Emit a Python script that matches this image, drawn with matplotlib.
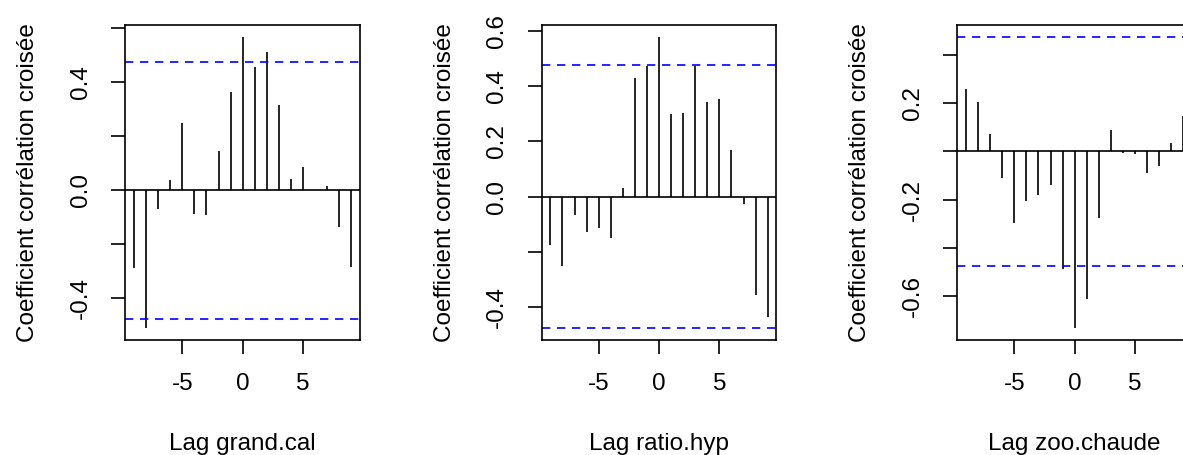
import matplotlib.pyplot as plt
import numpy as np

plt.rcParams['font.family'] = ['Liberation Sans', 'DejaVu Sans']
plt.rcParams['axes.unicode_minus'] = False

lags = np.arange(-9, 10)

# ccf values
ccf_grand_cal = [-0.289, -0.511, -0.070, 0.038, 0.248, -0.089, -0.093, 0.144, 0.365, 0.569,
                 0.456, 0.511, 0.315, 0.041, 0.085, 0.002, 0.017, -0.135, -0.283]
ccf_ratio_hyp = [-0.176, -0.251, -0.066, -0.128, -0.114, -0.149, 0.031, 0.428, 0.471, 0.578,
                 0.297, 0.302, 0.473, 0.341, 0.354, 0.167, -0.028, -0.354, -0.434]
ccf_zoo_chaude = [0.260, 0.204, 0.071, -0.112, -0.296, -0.206, -0.179, -0.140, -0.488, -0.733,
                  -0.612, -0.276, 0.087, -0.006, -0.012, -0.091, -0.062, 0.036, 0.147]
ci = 0.4754

xlabels = ['Lag grand.cal', 'Lag ratio.hyp', 'Lag zoo.chaude']
series = [ccf_grand_cal, ccf_ratio_hyp, ccf_zoo_chaude]
yticks = [[0.6, 0.4, 0.2, 0.0, -0.2, -0.4],
          [0.6, 0.4, 0.2, 0.0, -0.2, -0.4],
          [0.4, 0.2, 0.0, -0.2, -0.4, -0.6]]
ytick_labels = [['', '0.4', '', '0.0', '', '-0.4'],
                ['0.6', '0.4', '0.2', '0.0', '', '-0.4'],
                ['', '0.2', '', '-0.2', '', '-0.6']]

fig = plt.figure(figsize=(11.83, 4.55), dpi=100)
lefts = [125.3, 541.7, 957.3]
W, H = 1183.0, 455.0

for i in range(3):
    ax = fig.add_axes([lefts[i] / W, (H - 340) / H, 234.7 / W, 315 / H])
    vals = np.array(series[i])
    ax.vlines(lags, 0, vals, color='black', linewidth=1.2)
    ax.axhline(0, color='black', linewidth=1.2)
    ax.axhline(ci, color='blue', linewidth=1.2, dashes=(5, 4))
    ax.axhline(-ci, color='blue', linewidth=1.2, dashes=(5, 4))
    lo = min(vals.min(), -ci)
    hi = max(vals.max(), ci)
    r = hi - lo
    ax.set_ylim(lo - 0.04 * r, hi + 0.04 * r)
    ax.set_xlim(-9.72, 9.72)
    ax.set_xticks([-5, 0, 5])
    ax.set_yticks(yticks[i])
    ax.set_yticklabels(ytick_labels[i], rotation=90, va='center')
    ax.tick_params(axis='both', labelsize=17.5, length=10, width=1.2, pad=14)
    ax.set_xlabel(xlabels[i], fontsize=17.5, labelpad=27)
    ax.set_ylabel('Coefficient corrélation croisée', fontsize=17.5, labelpad=22)
    for s in ax.spines.values():
        s.set_linewidth(1.2)

fig.savefig('out.png', dpi=100)
